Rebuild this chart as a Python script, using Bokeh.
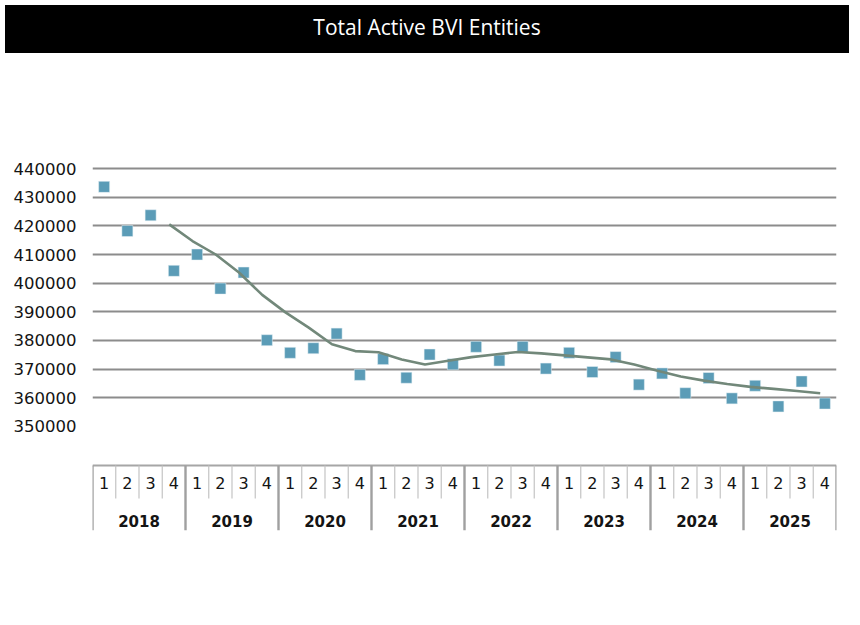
from bokeh.plotting import figure
from bokeh.models import (FactorRange, Range1d, FixedTicker, Div, ColumnDataSource,
                          BasicTickFormatter)
from bokeh.transform import dodge
from bokeh.layouts import column
from bokeh.core.properties import value
from bokeh.embed import file_html
from bokeh.resources import INLINE

title_text = "Total Active BVI Entities"
years = ["2018", "2019", "2020", "2021", "2022", "2023", "2024", "2025"]
quarters = ["1", "2", "3", "4"]
entities = [433600, 418200, 423700, 404300,
            410000, 398100, 403700, 380100,
            375700, 377300, 382400, 368000,
            373500, 367000, 375100, 371700,
            377800, 373000, 377800, 370200,
            375700, 369000, 374200, 364600,
            368500, 361600, 366900, 359800,
            364200, 357000, 365700, 358000]
# moving-average trend line, starting at 2018 Q4
trend = [420500,
         414700, 410000, 403700, 395900,
         389800, 384500, 378700, 376300,
         375900, 373400, 371600, 372900,
         374200, 375100, 376000, 375500,
         374800, 374100, 373400, 371600,
         369400, 367400, 366000, 364800,
         363800, 363100, 362400, 361600]
y_ticks = [350000, 360000, 370000, 380000, 390000, 400000, 410000, 420000, 430000, 440000]
grid_ticks = [360000, 370000, 380000, 390000, 400000, 410000, 420000, 430000, 440000]

factors = [(y, q) for y in years for q in quarters]

FONT = "DejaVu Sans"
TXT = "#141414"

div = Div(text=title_text, width=844, height=48,
          styles={"background-color": "#000000", "color": "#ffffff",
                  "font-family": "Open Sans", "font-size": "21px",
                  "font-weight": "500", "text-align": "center",
                  "line-height": "44px"})

x_range = FactorRange(*factors, factor_padding=0, subgroup_padding=0,
                      group_padding=0, range_padding=0)
p = figure(width=844, height=561, x_range=x_range,
           y_range=Range1d(313700, 442100),
           output_backend="svg", toolbar_location=None,
           x_axis_location=None,
           min_border_left=92, min_border_right=8,
           min_border_top=104, min_border_bottom=89)
p.extra_y_ranges = {"tab": Range1d(0, 368)}
p.outline_line_color = None
p.background_fill_color = "white"
p.border_fill_color = "white"

ax = p.yaxis[0]
ax.ticker = FixedTicker(ticks=y_ticks)
ax.formatter = BasicTickFormatter(use_scientific=False)
ax.axis_line_color = None
ax.major_tick_line_color = None
ax.minor_tick_line_color = None
ax.major_label_text_font = FONT
ax.major_label_text_font_size = "16.5px"
ax.major_label_text_color = TXT
ax.major_label_standoff = 10

p.ygrid.ticker = FixedTicker(ticks=grid_ticks)
p.ygrid.grid_line_color = "#8c8c8c"
p.ygrid.grid_line_width = 2
p.xgrid.visible = False

# data
src = ColumnDataSource(dict(x=factors, y=entities))
p.scatter(x="x", y="y", source=src, marker="square", size=11,
          fill_color="#5b9cb7", line_color="#e6f0f4", line_width=0.5)
tsrc = ColumnDataSource(dict(x=factors[3:], y=trend))
p.line(x=dodge("x", -0.2, range=x_range), y="y", source=tsrc,
       line_color="#72887a", line_width=2.6)

# category table below the chart
top = ColumnDataSource(dict(a=[factors[0]], b=[factors[-1]]))
p.segment(x0=dodge("a", -0.5, range=x_range), y0=65,
          x1=dodge("b", 0.5, range=x_range), y1=65, source=top,
          y_range_name="tab", line_color="#a6a6a6", line_width=2)

qsep = ColumnDataSource(dict(f=[f for f in factors if f[1] != "1"]))
p.segment(x0=dodge("f", -0.5, range=x_range), y0=65,
          x1=dodge("f", -0.5, range=x_range), y1=32, source=qsep,
          y_range_name="tab", line_color="#c4c4c4", line_width=1.2)

ysep = ColumnDataSource(dict(f=[f for f in factors if f[1] == "1"]))
p.segment(x0=dodge("f", -0.5, range=x_range), y0=65,
          x1=dodge("f", -0.5, range=x_range), y1=0, source=ysep,
          y_range_name="tab", line_color="#a0a0a0", line_width=2.4)
yend = ColumnDataSource(dict(f=[factors[-1]]))
p.segment(x0=dodge("f", 0.5, range=x_range), y0=65,
          x1=dodge("f", 0.5, range=x_range), y1=0, source=yend,
          y_range_name="tab", line_color="#a0a0a0", line_width=2.4)

qlab = ColumnDataSource(dict(f=factors, t=[q for (_, q) in factors]))
p.text(x="f", y=48, text="t", source=qlab, y_range_name="tab",
       text_align="center", text_baseline="middle",
       text_font=value(FONT), text_font_size="16px", text_color=TXT)

ylab = ColumnDataSource(dict(f=years, t=years))
p.text(x="f", y=10, text="t", source=ylab, y_range_name="tab",
       text_align="center", text_baseline="middle",
       text_font=value(FONT), text_font_size="15px", text_font_style="bold",
       text_color=TXT)

layout = column(div, p, spacing=0)
open("out.html", "w").write(file_html(layout, INLINE))
